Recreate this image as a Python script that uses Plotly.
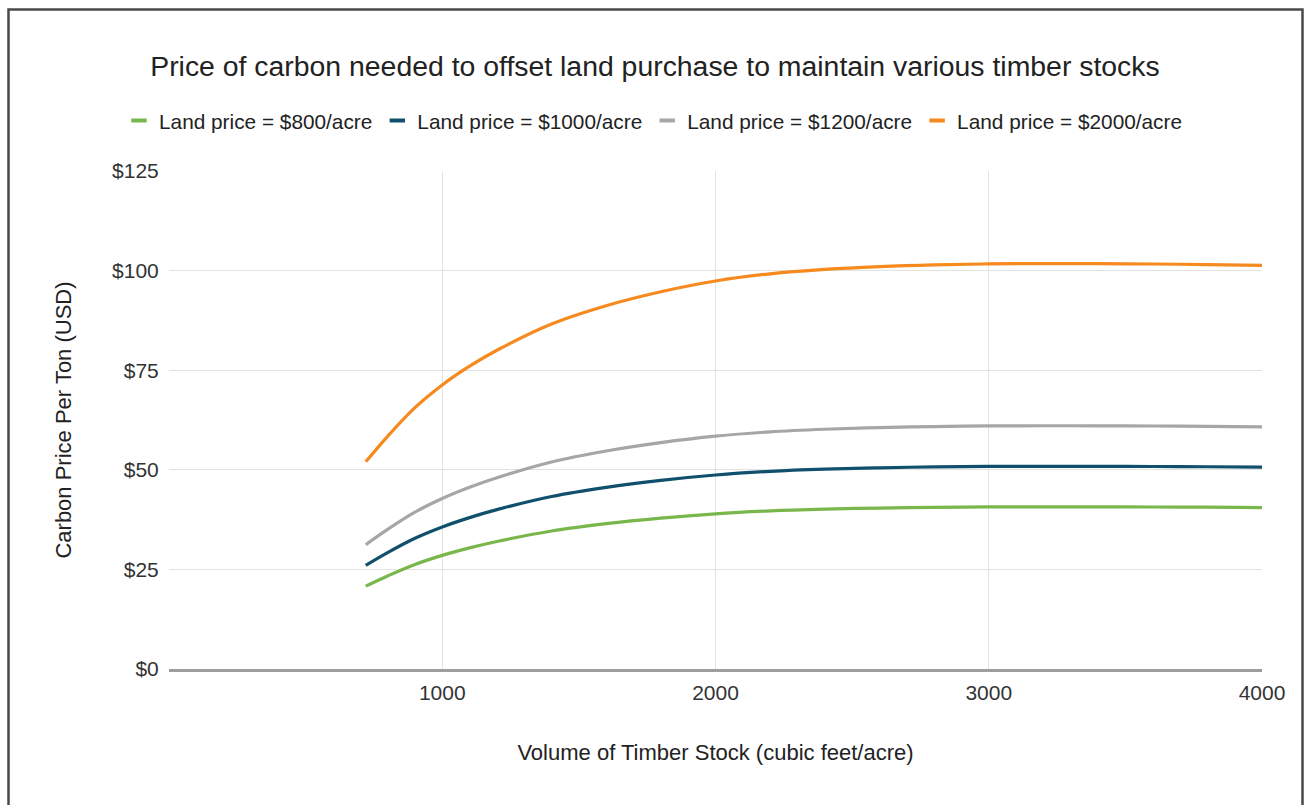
import plotly.graph_objects as go

# Volume of timber stock (cubic feet/acre)
volume = [720, 800, 900, 1000, 1100, 1200, 1400, 1600, 1800, 2000,
          2200, 2400, 2600, 2800, 3000, 3200, 3400, 3600, 3800, 4000]

# Carbon price per ton (USD) for each land price
price_800 = [20.8, 23.36, 26.24, 28.52, 30.4, 32.0, 34.64, 36.48, 37.88, 38.96,
             39.68, 40.12, 40.4, 40.58, 40.67, 40.7, 40.7, 40.66, 40.61, 40.53]
price_1000 = [26.0, 29.2, 32.8, 35.65, 38.0, 40.0, 43.3, 45.6, 47.35, 48.7,
              49.6, 50.15, 50.5, 50.72, 50.84, 50.88, 50.87, 50.83, 50.76, 50.66]
price_1200 = [31.2, 35.04, 39.36, 42.78, 45.6, 48.0, 51.96, 54.72, 56.82, 58.44,
              59.52, 60.18, 60.6, 60.86, 61.01, 61.06, 61.04, 61.0, 60.91, 60.79]
price_2000 = [52.0, 58.4, 65.6, 71.3, 76.0, 80.0, 86.6, 91.2, 94.7, 97.4,
              99.2, 100.3, 101.0, 101.44, 101.68, 101.76, 101.74, 101.66, 101.52, 101.32]

series_names = ["Land price = $800/acre", "Land price = $1000/acre",
                "Land price = $1200/acre", "Land price = $2000/acre"]
series_values = [price_800, price_1000, price_1200, price_2000]
series_colors = ["#79b64b", "#10506c", "#a6a6a6", "#f68a1e"]

x_ticks = [1000, 2000, 3000, 4000]
x_tick_labels = ["1000", "2000", "3000", "4000"]
y_ticks = [0, 25, 50, 75, 100, 125]
y_tick_labels = ["$0", "$25", "$50", "$75", "$100", "$125"]

FONT = "Liberation Sans, Arial, sans-serif"

fig = go.Figure()
for name, vals, col in zip(series_names, series_values, series_colors):
    fig.add_trace(go.Scatter(
        x=volume, y=vals, mode="lines", name=name, legendgroup=name,
        line=dict(color=col, width=3.2, shape="spline", smoothing=1.0),
        showlegend=False, hoverinfo="x+y+name",
    ))
    # legend entry with a short dash symbol
    fig.add_trace(go.Scatter(
        x=[None], y=[None], mode="markers", name=name, legendgroup=name,
        marker=dict(symbol="line-ew-open", size=11, color=col,
                    line=dict(color=col, width=4)),
        showlegend=True,
    ))

fig.update_layout(
    width=1306, height=805,
    paper_bgcolor="white", plot_bgcolor="white",
    margin=dict(l=169, r=44, t=171, b=136),
    font=dict(family=FONT, color="#222222"),
    title=dict(
        text="Price of carbon needed to offset land purchase to maintain various timber stocks",
        x=0.5015, xanchor="center", y=1 - 66 / 805, yanchor="middle", yref="container",
        font=dict(size=28.4, family=FONT, color="#222222"),
    ),
    legend=dict(
        orientation="h", xref="container", yref="container",
        x=0.5, xanchor="center", y=1 - 121 / 805, yanchor="middle",
        font=dict(size=20.8, family=FONT, color="#222222"),
        itemwidth=30, tracegroupgap=0, bgcolor="rgba(0,0,0,0)",
    ),
    xaxis=dict(
        range=[0, 4000], tickvals=x_ticks, ticktext=x_tick_labels,
        showgrid=True, gridcolor="#e2e2e2", gridwidth=1.3,
        zeroline=False, showline=True, linecolor="#9e9e9e", linewidth=3,
        ticks="outside", ticklen=3, tickcolor="rgba(0,0,0,0)",
        tickfont=dict(size=21, family=FONT, color="#333333"),
        title=dict(text="Volume of Timber Stock (cubic feet/acre)",
                   font=dict(size=22, family=FONT, color="#222222"), standoff=42),
    ),
    yaxis=dict(
        range=[0, 125], tickvals=y_ticks, ticktext=y_tick_labels,
        showgrid=True, gridcolor="#e2e2e2", gridwidth=1.3,
        zeroline=False, showline=False,
        ticks="outside", ticklen=5, tickcolor="rgba(0,0,0,0)",
        tickfont=dict(size=21, family=FONT, color="#333333"),
        title=dict(text="Carbon Price Per Ton (USD)",
                   font=dict(size=22, family=FONT, color="#222222"), standoff=34),
    ),
    shapes=[dict(
        type="rect", xref="paper", yref="paper",
        x0=(8.5 - 169) / 1093, x1=(1302.5 - 169) / 1093,
        y0=(669 - 815) / 498, y1=(669 - 9.5) / 498,
        line=dict(color="#4a4a4a", width=2.5), fillcolor="rgba(0,0,0,0)", layer="above",
    )],
)

fig.write_html("out.html", config={"displayModeBar": False},
               post_script="document.body.style.margin='0';")
